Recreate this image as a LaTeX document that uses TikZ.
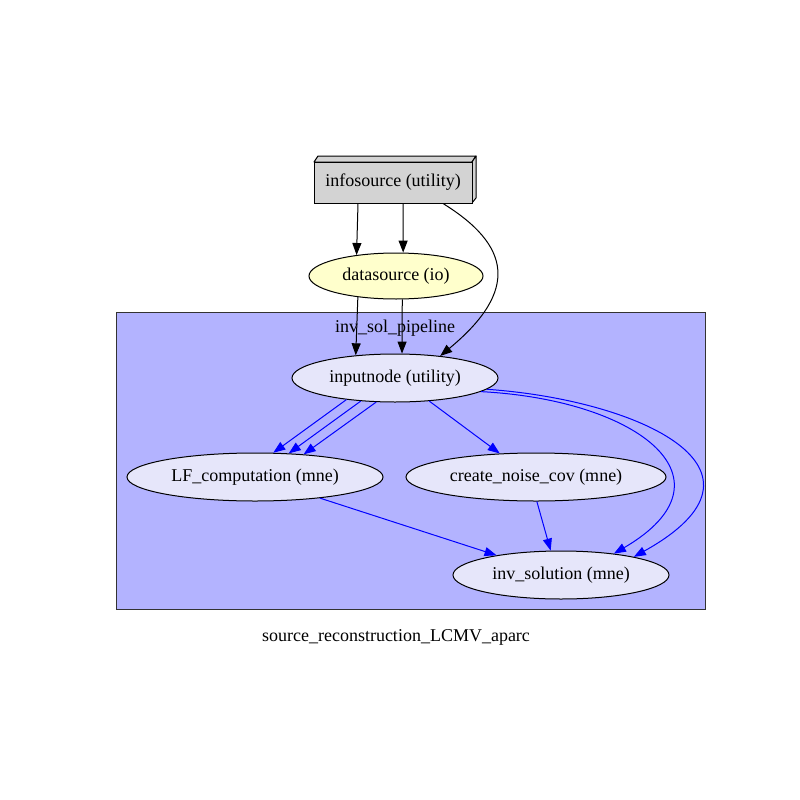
\documentclass[tikz,border=0pt]{standalone}
\usepackage{fontspec}
\setmainfont{Liberation Serif}
\usetikzlibrary{shapes.geometric,arrows.meta}
\definecolor{clfill}{HTML}{B3B3FF}
\definecolor{lav}{HTML}{E6E6FA}
\definecolor{lyel}{HTML}{FFFFCC}
\definecolor{lgray}{HTML}{D3D3D3}
\tikzset{
  ell/.style={ellipse, draw=black, line width=1pt, inner sep=0pt, font=\fontsize{18}{20}\selectfont},
  boxnode/.style={rectangle, draw=black, line width=1pt, fill=lgray, inner sep=0pt, minimum width=158pt, minimum height=41pt, font=\fontsize{18}{20}\selectfont},
  blk/.style={draw=black, line width=1pt, -{Triangle[length=12pt,width=9pt]}},
  blu/.style={draw=blue, line width=1pt, -{Triangle[length=12pt,width=9pt]}, blue},
  lbl/.style={font=\fontsize{18}{20}\selectfont, inner sep=0pt}
}
\begin{document}
\begin{tikzpicture}[x=1pt,y=-1pt]
\useasboundingbox (0,0) rectangle (800,800);
\fill[white] (0,0) rectangle (800,800);
% cluster
\draw[fill=clfill, draw=black!80, line width=1pt] (116,312) rectangle (705,609);
\node[lbl] (cl) at (395,328) {inv\_sol\_pipeline};
\node[lbl] (cap) at (396,637) {source\_reconstruction\_LCMV\_aparc};
% 3D box
\draw[fill=lgray, line width=1pt, line join=round] (314,162) -- (318,156) -- (476,156) -- (472,162) -- cycle;
\draw[fill=lgray, line width=1pt, line join=round] (472,162) -- (476,156) -- (476,198) -- (472,203) -- cycle;
\node[boxnode] (info) at (393,182.5) {infosource (utility)};
% nodes
\node[ell, fill=lyel, minimum width=174pt, minimum height=46pt] (data) at (396,276) {datasource (io)};
\node[ell, fill=lav, minimum width=206pt, minimum height=48pt] (input) at (395,378) {inputnode (utility)};
\node[ell, fill=lav, minimum width=256pt, minimum height=48pt] (lf) at (255,477) {LF\_computation (mne)};
\node[ell, fill=lav, minimum width=260pt, minimum height=48pt] (noise) at (536,477) {create\_noise\_cov (mne)};
\node[ell, fill=lav, minimum width=216pt, minimum height=48pt] (inv) at (561,575) {inv\_solution (mne)};
% black edges
\draw[blk] ([xshift=-35pt]info.south) -- (data.152);
\draw[blk] ([xshift=10pt]info.south) -- (data.73);
\draw[blk] ([xshift=50pt]info.south) .. controls (510,245) and (520,290) .. (input.26);
\draw[blk] (data.-151) -- (input.150);
\draw[blk] (data.-75) -- (input.74);
% blue edges
\draw[blu] (input.-156) -- (lf.53);
\draw[blu] (input.-146) -- (lf.35);
\draw[blu] (input.-128) -- (lf.25);
\draw[blu] (input.-34.5) -- (noise.147);
\draw[blu] (input.-9) .. controls (640,400) and (740,480) .. (inv.22.6);
\draw[blu] (input.-7) .. controls (640,400) and (790,470) .. (inv.14);
\draw[blu] (lf.-18) -- (inv.163);
\draw[blu] (noise.-88) -- (inv.113);
\end{tikzpicture}
\end{document}
